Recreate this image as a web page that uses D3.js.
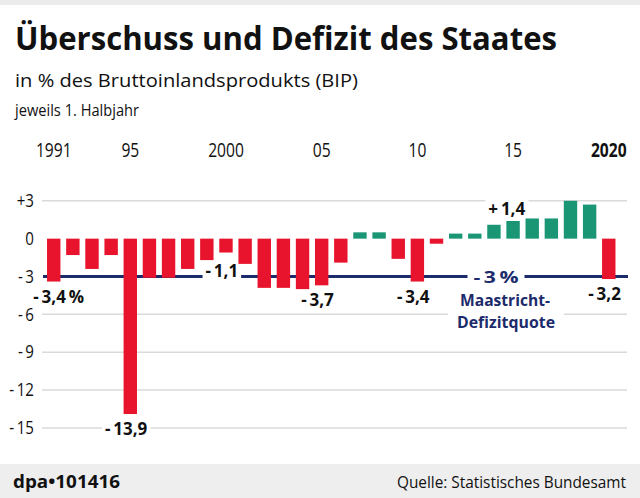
<!DOCTYPE html>
<html>
<head>
<meta charset="utf-8">
<script src="https://cdn.jsdelivr.net/npm/d3@7"></script>
<style>
  html, body { margin: 0; padding: 0; background: #fff; }
  svg { display: block; font-family: "Open Sans", "DejaVu Sans", sans-serif; }
</style>
</head>
<body>
<svg id="chart" width="640" height="498"></svg>
<script>
// ---- data ----
const years = [1991,1992,1993,1994,1995,1996,1997,1998,1999,2000,
               2001,2002,2003,2004,2005,2006,2007,2008,2009,2010,
               2011,2012,2013,2014,2015,2016,2017,2018,2019,2020];
const balance = [-3.4,-1.3,-2.4,-1.3,-13.9,-3.1,-3.1,-2.4,-1.7,-1.1,
                 -2.0,-3.9,-3.9,-4.0,-3.7,-1.9,0.5,0.5,-1.6,-3.4,
                 -0.4,0.4,0.4,1.1,1.4,1.6,1.6,3.0,2.7,-3.2];
const yearTicks = [1991,1995,2000,2005,2010,2015,2020];
const yearTickLabels = ["1991","95","2000","05","10","15","2020"];
const yTicks = [3,0,-3,-6,-9,-12,-15];
const yTickLabels = ["+3","0","-\u20093","-\u20096","-\u20099","-\u200912","-\u200915"];
const labelYears = [1991,1995,2000,2005,2010,2015,2020];
const limitValue = -3;
const limitLines = ["-\u20093\u2009%", "Maastricht-", "Defizitquote"];
const titleText = "Überschuss und Defizit des Staates";
const subtitleText = "in % des Bruttoinlandsprodukts (BIP)";
const noteText = "jeweils 1. Halbjahr";
const sourceText = "Quelle: Statistisches Bundesamt";
const creditText = "dpa\u2022101416";

// ---- styles ----
const RED = "#e8132c", GREEN = "#1a9674", NAVY = "#1c2b6b", GRID = "#dadada";

const svg = d3.select("#chart");

function fit(sel, w) {
  sel.attr("textLength", w).attr("lengthAdjust", "spacingAndGlyphs");
}
function condense(sel, k) {
  sel.each(function () {
    const n = this.getComputedTextLength();
    if (n > 0) d3.select(this).attr("textLength", n * k).attr("lengthAdjust", "spacingAndGlyphs");
  });
}

// bands
svg.append("rect").attr("x", 0).attr("y", 0).attr("width", 640).attr("height", 5).attr("fill", "#ebebeb");
svg.append("rect").attr("x", 0).attr("y", 464).attr("width", 640).attr("height", 34).attr("fill", "#eeeeee");

// titles
svg.append("text").attr("x", 15).attr("y", 49.5)
  .attr("font-size", 32).attr("font-weight", 700).attr("fill", "#111")
  .text(titleText).call(fit, 542);
svg.append("text").attr("x", 15).attr("y", 86.5)
  .attr("font-size", 19).attr("fill", "#111")
  .text(subtitleText).call(fit, 343);
svg.append("text").attr("x", 15).attr("y", 116)
  .attr("font-size", 16.5).attr("fill", "#111")
  .text(noteText).call(fit, 124);

// scales
const x = d3.scaleBand().domain(years).range([43.2, 619.3]).paddingInner(0.3).paddingOuter(0.2);
const y = d3.scaleLinear().domain([-15, 3]).range([427.9, 200.8]);
const cx = d => x(d) + x.bandwidth() / 2;
const gx0 = 42, gx1 = 627;

const gGrid = svg.append("g");
const gLimit = svg.append("g");
const gHalo = svg.append("g");
const gBars = svg.append("g");
const gLabels = svg.append("g");

// gridlines
gGrid.selectAll("line").data(yTicks.filter(v => v !== 0 && v !== limitValue)).join("line")
  .attr("x1", gx0).attr("x2", gx1)
  .attr("y1", d => y(d)).attr("y2", d => y(d))
  .attr("stroke", GRID).attr("stroke-width", 1.5);

// -3 % line
gLimit.append("line").attr("x1", gx0 + 1).attr("x2", gx1 + 1)
  .attr("y1", y(limitValue)).attr("y2", y(limitValue))
  .attr("stroke", NAVY).attr("stroke-width", 3);

// axes
const xAxis = d3.axisTop(x).tickValues(yearTicks)
  .tickFormat(d => yearTickLabels[yearTicks.indexOf(d)])
  .tickSize(0).tickPadding(0);
const gx = svg.append("g").attr("transform", "translate(0,157)").call(xAxis);
gx.select(".domain").remove();
gx.selectAll("text").attr("font-size", 20).attr("fill", "#111")
  .attr("font-family", "'Open Sans', sans-serif")
  .attr("font-weight", d => d === 2020 ? 700 : 500)
  .call(condense, 0.78);

const yAxis = d3.axisLeft(y).tickValues(yTicks)
  .tickFormat(d => yTickLabels[yTicks.indexOf(d)])
  .tickSize(0).tickPadding(0);
const gy = svg.append("g").attr("transform", "translate(34,0)").call(yAxis);
gy.select(".domain").remove();
gy.selectAll("text").attr("font-size", 18).attr("fill", "#111")
  .attr("font-family", "'Open Sans', sans-serif")
  .call(condense, 0.84);

// bars
gBars.selectAll("rect").data(years).join("rect")
  .attr("x", d => x(d))
  .attr("width", x.bandwidth())
  .attr("y", (d, i) => Math.min(y(0), y(balance[i])))
  .attr("height", (d, i) => Math.abs(y(balance[i]) - y(0)))
  .attr("fill", (d, i) => balance[i] < 0 ? RED : GREEN);

// value labels
const fmt = v => Math.abs(v).toFixed(1).replace(".", ",");
function halo(node, padX, padY) {
  const b = node.getBBox();
  gHalo.append("rect").attr("x", b.x - padX).attr("y", b.y - padY)
    .attr("width", b.width + 2 * padX).attr("height", b.height + 2 * padY).attr("fill", "#fff");
}
labelYears.forEach((yr, idx) => {
  const v = balance[years.indexOf(yr)];
  const sign = v < 0 ? "-\u2009" : "+\u2009";
  const num = fmt(v);
  const suffix = idx === 0 ? "\u2009%" : "";
  const base = v < 0 ? Math.max(y(v) + 21, y(limitValue) + 0.5) : y(v) - 6;
  const t = gLabels.append("text").attr("x", 0).attr("y", base)
    .attr("font-size", 17).attr("font-weight", 700).attr("fill", "#111")
    .text(sign + num + suffix);
  const node = t.node();
  const pre = node.getSubStringLength(0, sign.length);
  const nw = node.getSubStringLength(sign.length, num.length);
  t.attr("x", cx(yr) - pre - nw / 2);
  halo(node, 3, 0);
});

// Maastricht annotation: one text block, three lines
const mt = gLabels.append("text").attr("text-anchor", "middle")
  .attr("font-weight", 700).attr("fill", NAVY);
const mLayout = [
  { x: 496, y: 283, fs: 16, w: 45 },
  { x: 505, y: 305.5, fs: 16, w: 90 },
  { x: 506, y: 327.5, fs: 16, w: 98 }
];
limitLines.forEach((s, i) => mt.append("tspan")
  .attr("x", mLayout[i].x).attr("y", mLayout[i].y)
  .attr("font-size", mLayout[i].fs)
  .attr("textLength", mLayout[i].w).attr("lengthAdjust", "spacingAndGlyphs")
  .text(s));
// white gaps in the lines behind the annotation
[[0, 6], [2, 9]].forEach(([i, px]) => {
  const l = mLayout[i];
  gHalo.append("rect").attr("x", l.x - l.w / 2 - px).attr("y", l.y - l.fs * 0.95)
    .attr("width", l.w + 2 * px).attr("height", l.fs * 1.0).attr("fill", "#fff");
});

// footer
svg.append("text").attr("x", 13).attr("y", 488)
  .attr("font-size", 17).attr("font-weight", 700).attr("fill", "#111")
  .text(creditText).call(fit, 107);
svg.append("text").attr("x", 626).attr("y", 488).attr("text-anchor", "end")
  .attr("font-size", 16).attr("fill", "#111")
  .text(sourceText).call(fit, 229);
</script>
</body>
</html>
